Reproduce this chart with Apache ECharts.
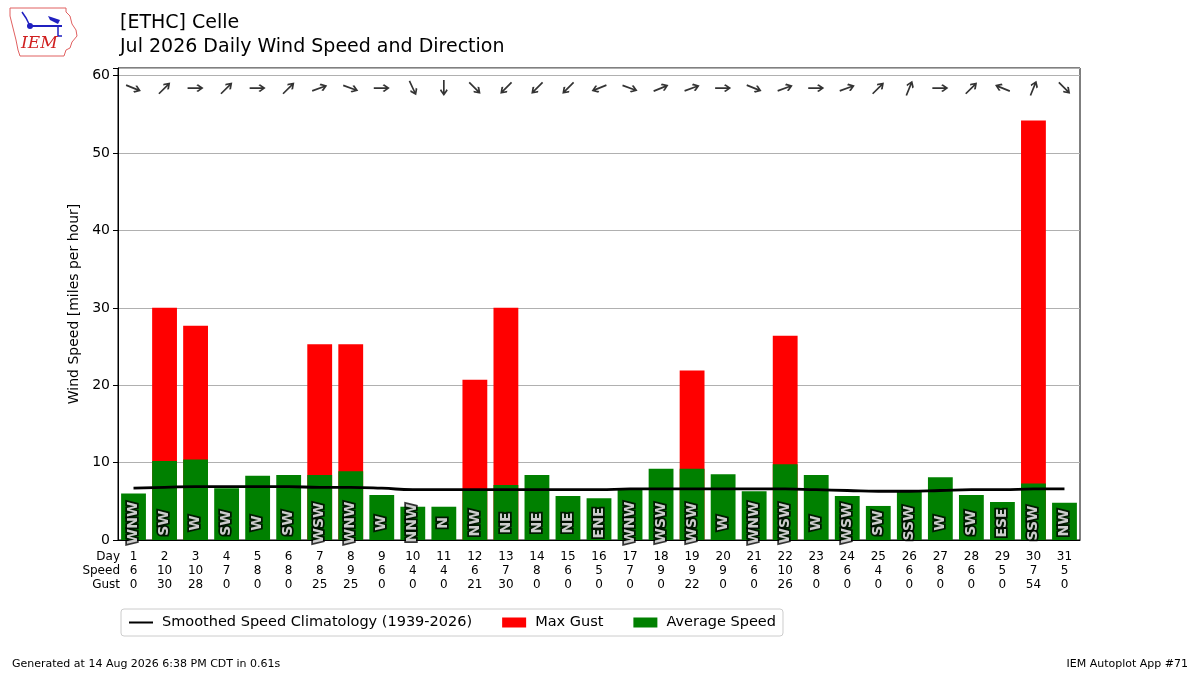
<!DOCTYPE html>
<html>
<head>
<meta charset="utf-8">
<title>Daily Wind Speed and Direction</title>
<script src="https://cdn.jsdelivr.net/npm/echarts@6/dist/echarts.min.js"></script>
<style>
  html, body { margin: 0; padding: 0; background: #fff; }
  #main { width: 1200px; height: 675px; }
</style>
</head>
<body>
<div id="main"></div>
<script>
// daily values
var days = ['1','2','3','4','5','6','7','8','9','10','11','12','13','14','15','16',
            '17','18','19','20','21','22','23','24','25','26','27','28','29','30','31'];
var avgSpeed = [6.0, 10.2, 10.4, 6.7, 8.3, 8.4, 8.4, 8.9, 5.8, 4.3, 4.3, 6.4, 7.1, 8.4, 5.7, 5.4,
                6.6, 9.2, 9.2, 8.5, 6.3, 9.8, 8.4, 5.7, 4.4, 6.3, 8.1, 5.8, 4.9, 7.3, 4.8];
var maxGust = [0, 30.0, 27.7, 0, 0, 0, 25.3, 25.3, 0, 0, 0, 20.7, 30.0, 0, 0, 0,
               0, 0, 21.9, 0, 0, 26.4, 0, 0, 0, 0, 0, 0, 0, 54.2, 0];
var dirName = ['WNW','SW','W','SW','W','SW','WSW','WNW','W','NNW','N','NW','NE','NE','NE','ENE',
               'WNW','WSW','WSW','W','WNW','WSW','W','WSW','SW','SSW','W','SW','ESE','SSW','NW'];
var dirDeg = [292, 225, 270, 225, 270, 225, 250, 290, 270, 335, 0, 315, 45, 45, 45, 68,
              290, 248, 250, 270, 292, 250, 270, 250, 225, 202, 270, 225, 112, 202, 315];
var climo = [6.7, 6.8, 6.9, 6.9, 6.9, 6.9, 6.8, 6.8, 6.7, 6.5, 6.5, 6.5, 6.5, 6.5, 6.5, 6.5,
             6.6, 6.6, 6.6, 6.6, 6.6, 6.6, 6.5, 6.4, 6.3, 6.3, 6.4, 6.5, 6.5, 6.6, 6.6];

var arrowPath = 'path://M0,5.5 L15,5.5 L11,2 L13,0 L20,7 L13,14 L11,12 L15,8.5 L0,8.5 Z';
// thin line icon for the legend, padded to a 30x10 box so it is not stretched
var lineIcon = 'path://M0,0 L0.01,0 L0,0.01 Z M0,3.8 L30,3.8 L30,6.2 L0,6.2 Z M0,10 L0.01,10 L0,9.99 Z';
var fontFam = '"DejaVu Sans", sans-serif';

var myChart = echarts.init(document.getElementById('main'));

var arrowData = dirDeg.map(function (d, i) {
    return { value: [i, 58.4], symbolRotate: -90 - d };
});
var labelData = dirName.map(function (n, i) {
    return { value: [i, 2.2], name: n };
});

// direction text: black outline layer underneath, white fill layer on top
function dirLabelSeries(name, fill, border, z) {
    return {
        name: name, type: 'scatter', data: labelData,
        symbolSize: 1, itemStyle: { color: 'transparent' },
        silent: true, z: z,
        label: {
            show: true, position: 'inside', rotate: 90,
            formatter: function (p) { return p.name; },
            fontSize: 14, fontWeight: 'bold', color: fill,
            textBorderColor: '#000', textBorderWidth: border
        }
    };
}

var option = {
    animation: false,
    textStyle: { fontFamily: fontFam },
    grid: {
        left: 118, right: 120, top: 68, bottom: 135,
        show: true, borderColor: '#000', borderWidth: 1, backgroundColor: 'transparent'
    },
    legend: {
        left: 121, top: 609,
        itemGap: 30, itemWidth: 24, itemHeight: 10,
        padding: [6, 7, 6, 8],
        borderColor: '#cccccc', borderWidth: 1, borderRadius: 3,
        textStyle: { fontSize: 14.5, color: '#000', fontFamily: fontFam, padding: [0, 0, 0, 4] },
        data: [
            { name: 'Smoothed Speed Climatology (1939-2026)', icon: lineIcon },
            { name: 'Max Gust', icon: 'rect' },
            { name: 'Average Speed', icon: 'rect' }
        ]
    },
    xAxis: {
        type: 'category',
        data: days,
        axisLine: { lineStyle: { color: '#000' } },
        axisTick: { alignWithLabel: true, length: 4, lineStyle: { color: '#000' } },
        axisLabel: {
            interval: 0, fontSize: 12, color: '#000', lineHeight: 14, margin: 10,
            formatter: function (v, i) {
                return v + '\n' + Math.round(avgSpeed[i]) + '\n' + Math.round(maxGust[i]);
            }
        }
    },
    yAxis: {
        type: 'value',
        min: 0, max: 61, interval: 10,
        name: 'Wind Speed [miles per hour]',
        nameLocation: 'middle', nameGap: 29,
        nameTextStyle: { fontSize: 14, color: '#000' },
        axisLine: { show: true, lineStyle: { color: '#000' } },
        axisTick: { show: true, length: 5, lineStyle: { color: '#000' } },
        axisLabel: {
            fontSize: 14, color: '#000', margin: 8,
            formatter: function (v) { return v % 10 === 0 ? v : ''; }
        },
        splitLine: { lineStyle: { color: '#b0b0b0', width: 1 } }
    },
    series: [
        {
            name: 'Max Gust', type: 'bar', data: maxGust,
            barWidth: '80%', barGap: '-100%',
            itemStyle: { color: '#ff0000' }, z: 2
        },
        {
            name: 'Average Speed', type: 'bar', data: avgSpeed,
            barWidth: '80%',
            itemStyle: { color: '#008000' }, z: 3
        },
        {
            name: 'Smoothed Speed Climatology (1939-2026)', type: 'line', data: climo,
            smooth: true, symbol: 'none',
            lineStyle: { color: '#000', width: 2.8 },
            itemStyle: { color: '#000' }, z: 5
        },
        dirLabelSeries('dirOutline', '#000', 3.5, 6),
        dirLabelSeries('dirFill', '#fff', 0, 7),
        {
            name: 'arrows', type: 'scatter', data: arrowData,
            symbol: arrowPath, symbolSize: [16, 11.2], symbolKeepAspect: true,
            itemStyle: { color: '#000' }, silent: true, z: 6
        }
    ],
    graphic: [
        { type: 'text', left: 120, top: 14,
          style: { text: '[ETHC] Celle', fontSize: 19, fill: '#000', fontFamily: fontFam } },
        { type: 'text', left: 120, top: 38,
          style: { text: 'Jul 2026 Daily Wind Speed and Direction', fontSize: 19, fill: '#000', fontFamily: fontFam } },
        { type: 'text', x: 120, y: 557,
          style: { text: 'Day', fontSize: 12, fill: '#000', align: 'right', verticalAlign: 'middle', fontFamily: fontFam } },
        { type: 'text', x: 120, y: 571,
          style: { text: 'Speed', fontSize: 12, fill: '#000', align: 'right', verticalAlign: 'middle', fontFamily: fontFam } },
        { type: 'text', x: 120, y: 585,
          style: { text: 'Gust', fontSize: 12, fill: '#000', align: 'right', verticalAlign: 'middle', fontFamily: fontFam } },
        { type: 'text', left: 12, top: 659,
          style: { text: 'Generated at 14 Aug 2026 6:38 PM CDT in 0.61s', fontSize: 11, fill: '#000', fontFamily: fontFam } },
        { type: 'text', right: 12, top: 659,
          style: { text: 'IEM Autoplot App #71', fontSize: 11, fill: '#000', fontFamily: fontFam } },
        // IEM logo, roughly
        { type: 'polygon',
          shape: { points: [[10,8],[66,8],[66,12],[70,16],[72,24],[76,30],[77,36],[72,42],[70,48],[66,50],[64,56],[20,56],[18,50],[16,40],[12,24],[10,16]] },
          style: { fill: '#fff', stroke: '#e06060', lineWidth: 1 } },
        { type: 'polyline', shape: { points: [[30,26],[62,26]] }, style: { stroke: '#2020c0', lineWidth: 2 } },
        { type: 'polyline', shape: { points: [[22,12],[26,18],[30,26]] }, style: { stroke: '#2020c0', lineWidth: 1.5 } },
        { type: 'circle', shape: { cx: 30, cy: 26, r: 3 }, style: { fill: '#2020c0' } },
        { type: 'polygon', shape: { points: [[48,16],[60,20],[58,24],[50,20]] }, style: { fill: '#2020c0' } },
        { type: 'polyline', shape: { points: [[58,26],[58,36],[62,36]] }, style: { stroke: '#2020c0', lineWidth: 1.5 } },
        { type: 'text', left: 21, top: 35,
          style: { text: 'IEM', fontSize: 17, fontStyle: 'italic', fill: '#d02020', fontFamily: '"DejaVu Serif", "Liberation Serif", serif' } }
    ]
};

myChart.setOption(option);
</script>
</body>
</html>
